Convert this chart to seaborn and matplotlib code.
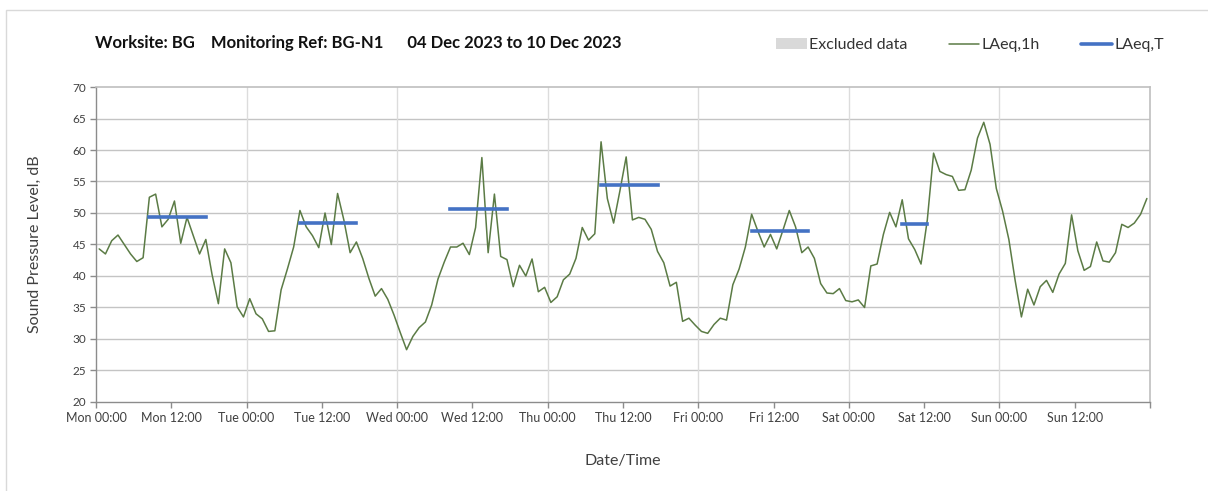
import numpy as np
import pandas as pd
import matplotlib.pyplot as plt
import seaborn as sns
from matplotlib.patches import Patch, Rectangle
from matplotlib.lines import Line2D

# hourly LAeq,1h values, Mon 00:00 to Sun 23:00
laeq_1h = [
    44.3, 43.5, 45.6, 46.5, 45.0, 43.5, 42.3, 42.9, 52.5, 53.0, 47.8, 49.0,
    51.9, 45.2, 49.3, 46.4, 43.5, 45.8, 40.2, 35.6, 44.3, 42.1, 35.1, 33.5,
    36.4, 34.0, 33.2, 31.2, 31.3, 37.8, 41.1, 44.6, 50.4, 47.8, 46.4, 44.5,
    50.0, 45.0, 53.1, 48.9, 43.7, 45.4, 42.8, 39.6, 36.8, 38.0, 36.3, 33.8,
    31.0, 28.3, 30.4, 31.8, 32.7, 35.4, 39.5, 42.2, 44.6, 44.6, 45.2, 43.4,
    47.7, 58.8, 43.7, 53.0, 43.1, 42.6, 38.3, 41.7, 40.0, 42.7, 37.5, 38.2,
    35.8, 36.7, 39.4, 40.3, 42.8, 47.7, 45.7, 46.7, 61.3, 52.3, 48.4, 53.5,
    58.9, 48.9, 49.3, 49.0, 47.4, 43.9, 42.1, 38.4, 39.0, 32.8, 33.3, 32.2,
    31.2, 30.9, 32.3, 33.3, 33.0, 38.6, 41.1, 44.6, 49.8, 47.1, 44.6, 46.6,
    44.3, 47.3, 50.4, 47.8, 43.7, 44.6, 42.8, 38.8, 37.3, 37.2, 38.0, 36.1,
    35.9, 36.2, 35.0, 41.6, 41.9, 46.6, 50.1, 47.8, 52.1, 45.9, 44.2, 41.9,
    48.9, 59.5, 56.6, 56.1, 55.8, 53.6, 53.7, 56.8, 61.9, 64.4, 60.9, 53.9,
    50.3, 45.8, 39.3, 33.5, 37.9, 35.4, 38.3, 39.3, 37.4, 40.3, 42.0, 49.7,
    44.0, 40.9, 41.5, 45.4, 42.4, 42.2, 43.7, 48.2, 47.7, 48.4, 49.8, 52.3,
]

days = ['Mon', 'Tue', 'Wed', 'Thu', 'Fri', 'Sat', 'Sun']

# LAeq,T over the working periods
period_day = [0, 1, 2, 3, 4, 5]
period_start = [8, 8, 8, 8, 8, 8]
period_end = [18, 18, 18, 18, 18, 13]
laeq_t = [49.4, 48.4, 50.7, 54.5, 47.1, 48.3]

# no excluded periods this week
excluded_start = []
excluded_end = []

df = pd.DataFrame({'hour': np.arange(len(laeq_1h)) + 0.5, 'laeq': laeq_1h})

sns.set_style('white')
plt.rcParams['font.family'] = ['Lato', 'DejaVu Sans']

fig = plt.figure(figsize=(12.08, 4.91), dpi=100)
ax = fig.add_axes([0.0795, 0.1813, 0.8725, 0.6415])

# outer chart border
fig.patches.append(Rectangle((0.005, -0.1), 1.2, 1.08, transform=fig.transFigure,
                             fill=False, edgecolor='#d9d9d9', linewidth=1))

for s, e in zip(excluded_start, excluded_end):
    ax.axvspan(s, e, color='#d9d9d9', zorder=0)

sns.lineplot(data=df, x='hour', y='laeq', ax=ax, color='#5b7b45', linewidth=1.1, zorder=3)

for d, s, e, v in zip(period_day, period_start, period_end, laeq_t):
    ax.plot([d * 24 + s + 0.5, d * 24 + e - 0.5], [v, v], color='#4472c4',
            linewidth=2.6, solid_capstyle='projecting', zorder=4)

ax.set_xlim(0, 168)
ax.set_ylim(20, 70)
ax.set_yticks(np.arange(20, 71, 5))
xt = np.arange(0, 169, 12)
labels = [f'{days[int(t // 24)]} {int(t % 24):02d}:00' for t in xt[:-1]] + ['']
ax.set_xticks(xt)
ax.set_xticklabels(labels)

# grid: horizontal every 5 dB, vertical at midnight
for y in np.arange(25, 70, 5):
    ax.axhline(y, color='#c4c4c4', linewidth=1, zorder=1)
for x in np.arange(24, 168, 24):
    ax.axvline(x, color='#dcdcdc', linewidth=1, zorder=1)

for side in ['top', 'right']:
    ax.spines[side].set_color('#bfbfbf')
    ax.spines[side].set_linewidth(1.2)
for side in ['left', 'bottom']:
    ax.spines[side].set_color('#8c8c8c')
    ax.spines[side].set_linewidth(1)

ax.tick_params(axis='y', left=True, length=4, width=1, color='#8c8c8c',
               labelsize=8.5, labelcolor='#404040', pad=3)
ax.tick_params(axis='x', bottom=True, length=4, width=1, color='#8c8c8c',
               labelsize=9, labelcolor='#404040', pad=3)

ax.set_xlabel('Date/Time', fontsize=11.5, color='#404040', labelpad=22)
ax.set_ylabel('Sound Pressure Level, dB', fontsize=11.5, color='#404040', labelpad=22)

fig.text(0.0785, 0.912, 'Worksite: BG    Monitoring Ref: BG-N1      04 Dec 2023 to 10 Dec 2023',
         fontsize=12, fontweight='bold', color='#111111', va='center')

handles = [Patch(facecolor='#d9d9d9', edgecolor='none'),
           Line2D([], [], color='#5b7b45', linewidth=1.1),
           Line2D([], [], color='#4472c4', linewidth=2.6)]
fig.legend(handles, ['Excluded data', 'LAeq,1h', 'LAeq,T'], loc='center',
           bbox_to_anchor=(0.803, 0.908), ncol=3, frameon=False, fontsize=11.5,
           handlelength=1.9, handletextpad=0.15, columnspacing=2.6,
           labelcolor='#333333')

fig.savefig('out.png', dpi=100, facecolor='white')
